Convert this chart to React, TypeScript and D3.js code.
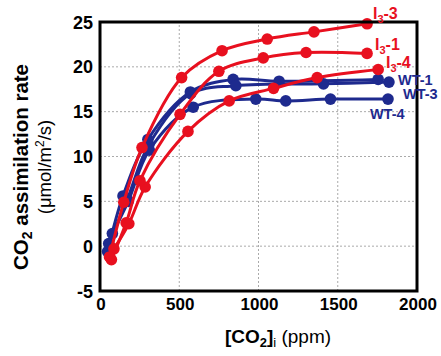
import * as d3 from 'd3';
import React, { useRef, useEffect } from 'react';

const W = 441;
const H = 356;
const margin = { top: 22, right: 24, bottom: 65, left: 100 };

const red = '#e8101f';
const blue = '#1e2a8e';

// [Ci (ppm), A (umol/m2/s)]
const i33 = [[60, -1.2], [150, 4.9], [265, 11.0], [515, 18.8], [770, 21.8], [1055, 23.1], [1350, 23.9], [1685, 24.8]];
const i31 = [[72, -1.5], [165, 2.6], [252, 7.3], [505, 14.7], [750, 19.5], [1030, 21.0], [1300, 21.6], [1685, 21.5]];
const i34 = [[88, -0.3], [182, 2.5], [285, 6.6], [555, 12.8], [815, 16.2], [1095, 17.6], [1370, 18.8], [1755, 19.7]];
const wt1 = [[48, -0.6], [145, 5.6], [302, 11.9], [570, 17.2], [840, 18.6], [1130, 18.4], [1755, 18.6]];
const wt3 = [[55, 0.3], [172, 5.2], [308, 11.3], [572, 17.0], [857, 17.9], [1410, 18.1], [1823, 18.3]];
const wt4 = [[78, 1.4], [178, 5.0], [311, 10.7], [588, 15.5], [983, 16.4], [1172, 16.2], [1454, 16.4], [1817, 16.4]];

const series = [
  { name: 'WT-1', data: wt1, color: blue },
  { name: 'WT-3', data: wt3, color: blue },
  { name: 'WT-4', data: wt4, color: blue },
  { name: 'I3-4', data: i34, color: red },
  { name: 'I3-1', data: i31, color: red },
  { name: 'I3-3', data: i33, color: red },
];

const xTicks = [0, 500, 1000, 1500, 2000];
const yTicks = [-5, 0, 5, 10, 15, 20, 25];

// label anchors in data coords
const labels = [
  { main: 'I', sub: '3', rest: '-3', x: 1722, y: 25.3, color: red },
  { main: 'I', sub: '3', rest: '-1', x: 1735, y: 21.9, color: red },
  { main: 'I', sub: '3', rest: '-4', x: 1804, y: 19.9, color: red },
  { main: 'WT-1', sub: '', rest: '', x: 1880, y: 18.0, color: blue },
  { main: 'WT-3', sub: '', rest: '', x: 1912, y: 16.4, color: blue },
  { main: 'WT-4', sub: '', rest: '', x: 1703, y: 14.2, color: blue },
];

export default function App() {
  const ref = useRef<SVGSVGElement>(null);

  useEffect(() => {
    const svg = d3.select(ref.current);
    svg.selectAll('*').remove();
    const font = '"Liberation Sans", Arial, Helvetica, sans-serif';

    const x = d3.scaleLinear().domain([0, 2000]).range([margin.left, W - margin.right]);
    const y = d3.scaleLinear().domain([-5, 25]).range([H - margin.bottom, margin.top]);

    // grid
    const grid = svg.append('g').attr('stroke', '#aaa').attr('stroke-width', 1).attr('stroke-dasharray', '2,2');
    grid.selectAll('line.v').data(xTicks.slice(1, -1)).join('line')
      .attr('x1', (d) => x(d)).attr('x2', (d) => x(d))
      .attr('y1', y(-5)).attr('y2', y(25));
    grid.selectAll('line.h').data(yTicks.slice(1, -1)).join('line')
      .attr('class', 'h')
      .attr('x1', x(0)).attr('x2', x(2000))
      .attr('y1', (d) => y(d)).attr('y2', (d) => y(d));

    // tick labels
    svg.append('g').selectAll('text').data(xTicks).join('text')
      .attr('x', (d) => x(d) + 1).attr('y', 310)
      .attr('text-anchor', 'middle')
      .attr('font-family', font).attr('font-weight', 'bold').attr('font-size', 17)
      .text((d) => d);
    svg.append('g').selectAll('text').data(yTicks).join('text')
      .attr('x', 93).attr('y', (d) => y(d) + 6.5)
      .attr('text-anchor', 'end')
      .attr('font-family', font).attr('font-weight', 'bold').attr('font-size', 18)
      .text((d) => d);

    const line = d3.line<number[]>()
      .x((d) => x(d[0])).y((d) => y(d[1]))
      .curve(d3.curveCatmullRom.alpha(0.5));

    const g = svg.append('g');
    series.forEach((s) => {
      g.append('path').attr('d', line(s.data as any))
        .attr('fill', 'none').attr('stroke', s.color).attr('stroke-width', 3);
      g.selectAll(null).data(s.data).join('circle')
        .attr('cx', (d) => x(d[0])).attr('cy', (d) => y(d[1]))
        .attr('r', 5.8).attr('fill', s.color);
    });

    // frame
    svg.append('rect')
      .attr('x', x(0)).attr('y', y(25))
      .attr('width', x(2000) - x(0)).attr('height', y(-5) - y(25))
      .attr('fill', 'none').attr('stroke', '#000').attr('stroke-width', 3);

    // series labels
    labels.forEach((l) => {
      const big = !!l.sub;
      const t = svg.append('text')
        .attr('x', x(l.x)).attr('y', y(l.y))
        .attr('font-family', font).attr('font-weight', 'bold').attr('font-size', big ? 16 : 14.5)
        .attr('fill', l.color);
      t.append('tspan').text(l.main);
      if (l.sub) {
        t.append('tspan').attr('font-size', 11).attr('dy', 4).text(l.sub);
        t.append('tspan').attr('dy', -4).text(l.rest);
      }
    });

    // x title
    const xt = svg.append('text')
      .attr('x', 278).attr('y', 343).attr('text-anchor', 'middle')
      .attr('font-family', font).attr('font-size', 19);
    xt.append('tspan').attr('font-weight', 'bold').text('[CO');
    xt.append('tspan').attr('font-weight', 'bold').attr('font-size', 13).attr('dy', 4).text('2');
    xt.append('tspan').attr('font-weight', 'bold').attr('dy', -4).text(']');
    xt.append('tspan').attr('font-size', 13).attr('dy', 4).text('i');
    xt.append('tspan').attr('dy', -4).text(' (ppm)');

    // y title
    const yt = svg.append('g').attr('transform', 'translate(28, 167) rotate(-90)');
    const y1 = yt.append('text').attr('text-anchor', 'middle')
      .attr('font-family', font).attr('font-weight', 'bold').attr('font-size', 20.5);
    y1.append('tspan').text('CO');
    y1.append('tspan').attr('font-size', 14).attr('dy', 4).text('2');
    y1.append('tspan').attr('dy', -4).text(' assimilation rate');
    const y2 = yt.append('text').attr('y', 23).attr('text-anchor', 'middle')
      .attr('font-family', font).attr('font-size', 18.5);
    y2.append('tspan').text('(μmol/m');
    y2.append('tspan').attr('font-size', 12).attr('dy', -7).text('2');
    y2.append('tspan').attr('dy', 7).text('/s)');
  }, []);

  return <svg width={W} height={H} ref={ref} style={{ display: 'block', position: 'absolute', left: 0, top: 0 }}></svg>;
}
